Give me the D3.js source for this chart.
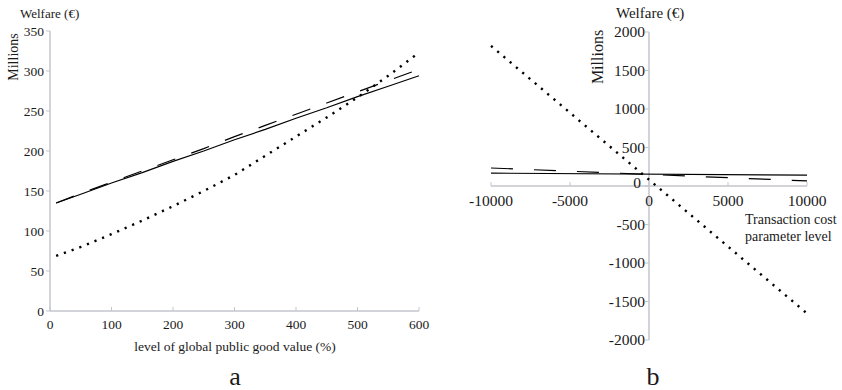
<!DOCTYPE html>
<html><head><meta charset="utf-8">
<script src="https://cdn.jsdelivr.net/npm/d3@7"></script>
<style>
html,body{margin:0;padding:0;background:#fff;}
</style></head>
<body><svg id="c" width="842" height="390" font-family="'Liberation Serif', 'Times New Roman', 'DejaVu Serif', serif"></svg>
<script>
// ---- Panel a data ----
const aX = [10, 50, 100, 150, 200, 250, 300, 350, 400, 450, 500, 550, 600];
const aSolid  = [135, 146, 160, 173, 187, 200, 214, 227, 241, 254, 268, 281, 294];
const aDashed = [135, 147, 161, 175, 189, 203, 218, 232, 246, 260, 274, 288, 302];
const aDotted = [69, 80, 96, 113, 131, 150, 170, 194, 218, 242, 267, 294, 323];
const aXTicks = [0, 100, 200, 300, 400, 500, 600];
const aYTicks = [0, 50, 100, 150, 200, 250, 300, 350];

// ---- Panel b data ----
const bX = [-10000, 10000];
const bSolid  = [167, 142];
const bDashed = [234, 66];
const bDotted = [1820, -1655];
const bXTicks = [-10000, -5000, 0, 5000, 10000];
const bYTicks = [-2000, -1500, -1000, -500, 0, 500, 1000, 1500, 2000];

const svg = d3.select("#c");
const axisColor = "#c3c6cd";
const textColor = "#1a1a1a";

// scales
const xA = d3.scaleLinear().domain([0, 600]).range([50, 419]);
const yA = d3.scaleLinear().domain([0, 350]).range([311, 31]);
const xB = d3.scaleLinear().domain([-10000, 10000]).range([491, 807]);
const yB = d3.scaleLinear().domain([-2000, 2000]).range([340, 32]);

// ---------- Panel a ----------
const ga = svg.append("g").attr("fill", textColor);
ga.append("line").attr("x1", xA(0)).attr("x2", xA(0)).attr("y1", yA(350)).attr("y2", yA(0))
  .attr("stroke", axisColor).attr("stroke-width", 1.5);
ga.append("line").attr("x1", xA(0)).attr("x2", xA(600)).attr("y1", yA(0)).attr("y2", yA(0))
  .attr("stroke", axisColor).attr("stroke-width", 1.5);
ga.selectAll(".yt").data(aYTicks).join("line")
  .attr("x1", xA(0) - 4).attr("x2", xA(0)).attr("y1", d => yA(d)).attr("y2", d => yA(d))
  .attr("stroke", axisColor).attr("stroke-width", 1);
ga.selectAll(".yl").data(aYTicks).join("text")
  .attr("x", xA(0) - 6).attr("y", d => yA(d)).attr("dy", "0.35em")
  .attr("text-anchor", "end").attr("font-size", 13.5).text(d => d);
ga.selectAll(".xt").data(aXTicks).join("line")
  .attr("x1", d => xA(d)).attr("x2", d => xA(d)).attr("y1", yA(0) - 4).attr("y2", yA(0))
  .attr("stroke", axisColor).attr("stroke-width", 1);
ga.selectAll(".xl").data(aXTicks).join("text")
  .attr("x", d => xA(d)).attr("y", yA(0) + 18)
  .attr("text-anchor", "middle").attr("font-size", 13.5).text(d => d);
ga.append("text").attr("x", 20).attr("y", 18).attr("font-size", 13).text("Welfare (€)");
ga.append("text").attr("transform", "translate(18,57) rotate(-90)")
  .attr("text-anchor", "middle").attr("font-size", 14).text("Millions");
ga.append("text").attr("x", 235).attr("y", 351).attr("text-anchor", "middle")
  .attr("font-size", 13.5).text("level of global public good value (%)");
ga.append("text").attr("x", 235).attr("y", 385).attr("text-anchor", "middle")
  .attr("font-size", 26).text("a");

const lineA = ys => d3.line().x((d, i) => xA(aX[i])).y(d => yA(d))(ys);
ga.append("path").attr("d", lineA(aSolid)).attr("fill", "none").attr("stroke", "#000").attr("stroke-width", 1.2);
ga.append("path").attr("d", lineA(aDashed)).attr("fill", "none").attr("stroke", "#000").attr("stroke-width", 1.2)
  .attr("stroke-dasharray", "19,17");
ga.append("path").attr("d", lineA(aDotted)).attr("fill", "none").attr("stroke", "#000").attr("stroke-width", 2.4)
  .attr("stroke-dasharray", "2.2,6");

// ---------- Panel b ----------
const gb = svg.append("g").attr("fill", textColor);
gb.append("line").attr("x1", xB(0)).attr("x2", xB(0)).attr("y1", yB(2000)).attr("y2", yB(-2000))
  .attr("stroke", axisColor).attr("stroke-width", 1.5);
gb.append("line").attr("x1", xB(-10000)).attr("x2", xB(10000)).attr("y1", yB(0)).attr("y2", yB(0))
  .attr("stroke", axisColor).attr("stroke-width", 1.5);
gb.selectAll(".yt").data(bYTicks).join("line")
  .attr("x1", xB(0) - 4).attr("x2", xB(0)).attr("y1", d => yB(d)).attr("y2", d => yB(d))
  .attr("stroke", axisColor).attr("stroke-width", 1);
gb.selectAll(".yl").data(bYTicks).join("text")
  .attr("x", d => d === 0 ? xB(0) - 8 : xB(0) - 4).attr("y", d => d === 0 ? yB(d) - 3 : yB(d)).attr("dy", "0.35em")
  .attr("text-anchor", "end").attr("font-size", 15.5).text(d => d);
gb.selectAll(".xt").data(bXTicks).join("line")
  .attr("x1", d => xB(d)).attr("x2", d => xB(d)).attr("y1", yB(0) - 4).attr("y2", yB(0))
  .attr("stroke", axisColor).attr("stroke-width", 1);
gb.selectAll(".xl").data(bXTicks).join("text")
  .attr("x", d => xB(d)).attr("y", yB(0) + 20)
  .attr("text-anchor", "middle").attr("font-size", 15.5).text(d => d);
gb.append("text").attr("x", 616).attr("y", 18).attr("font-size", 15).text("Welfare (€)");
gb.append("text").attr("transform", "translate(603,57) rotate(-90)")
  .attr("text-anchor", "middle").attr("font-size", 16).text("Millions");
gb.append("text").attr("x", 745).attr("y", 224).attr("font-size", 14).text("Transaction cost");
gb.append("text").attr("x", 745).attr("y", 241).attr("font-size", 14).text("parameter level");
gb.append("text").attr("x", 653).attr("y", 385).attr("text-anchor", "middle")
  .attr("font-size", 26).text("b");

const lineB = ys => d3.line().x((d, i) => xB(bX[i])).y(d => yB(d))(ys);
gb.append("path").attr("d", lineB(bSolid)).attr("fill", "none").attr("stroke", "#000").attr("stroke-width", 1.2);
gb.append("path").attr("d", lineB(bDashed)).attr("fill", "none").attr("stroke", "#000").attr("stroke-width", 1.2)
  .attr("stroke-dasharray", "22,21");
gb.append("path").attr("d", lineB(bDotted)).attr("fill", "none").attr("stroke", "#000").attr("stroke-width", 2.4)
  .attr("stroke-dasharray", "2.2,6");
</script></body></html>
